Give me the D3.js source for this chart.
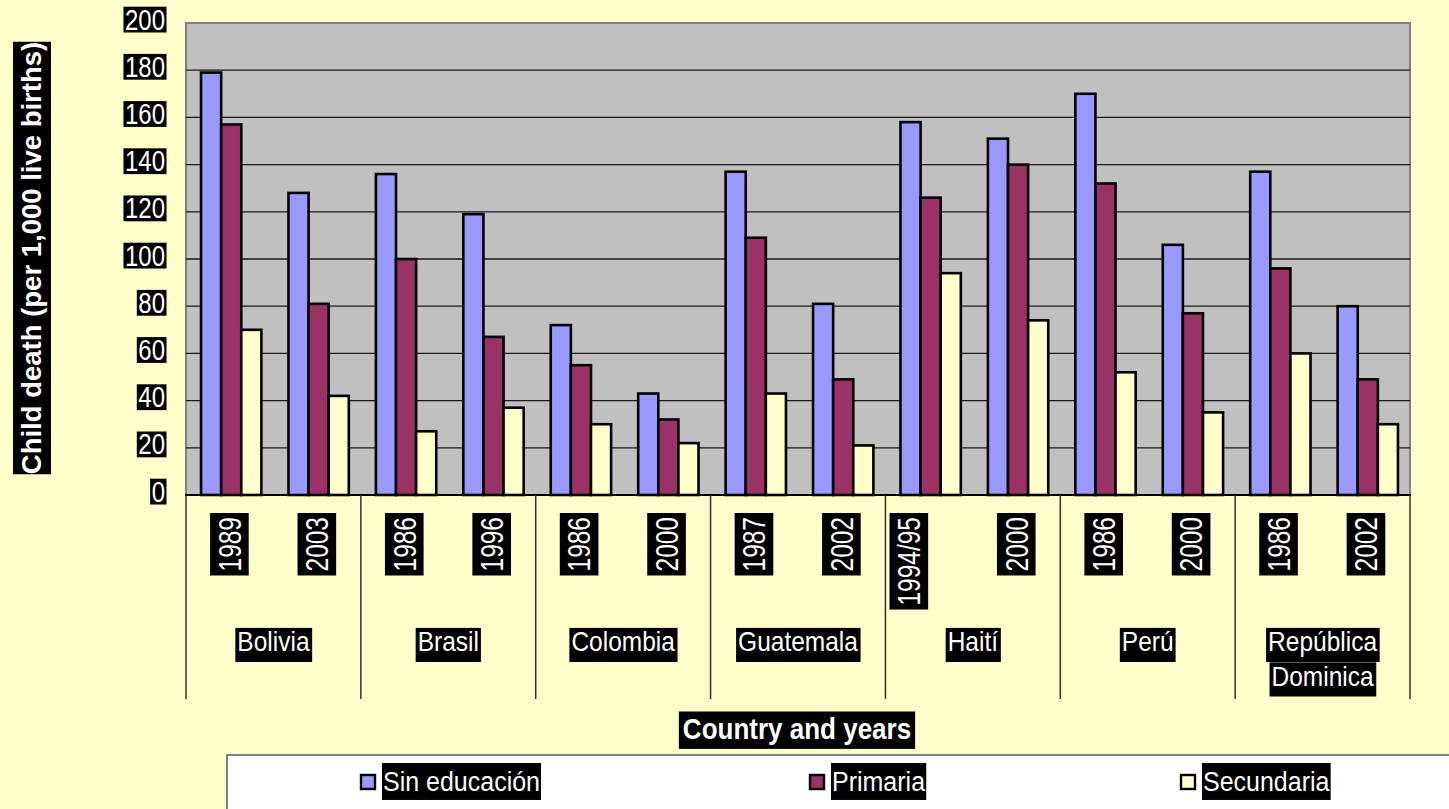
<!DOCTYPE html>
<html>
<head>
<meta charset="utf-8">
<script src="https://cdn.jsdelivr.net/npm/d3@7"></script>
<style>
  html, body { margin: 0; padding: 0; background: #ffffcc; overflow: hidden; }
  text { font-family: "Liberation Sans", Arial, sans-serif; }
</style>
</head>
<body>
<script>
const width = 1449;
const height = 809;
const margin = { top: 23, right: 39, bottom: 314, left: 186 };

// data
const countries = ["Bolivia", "Brasil", "Colombia", "Guatemala", "Haití", "Perú", "República Dominica"];
const years = ["1989", "2003", "1986", "1996", "1986", "2000", "1987", "2002", "1994/95", "2000", "1986", "2000", "1986", "2002"];
const seriesNames = ["Sin educación", "Primaria", "Secundaria"];
const sinEducacion = [179, 128, 136, 119, 72, 43, 137, 81, 158, 151, 170, 106, 137, 80];
const primaria = [157, 81, 100, 67, 55, 32, 109, 49, 126, 140, 132, 77, 96, 49];
const secundaria = [70, 42, 27, 37, 30, 22, 43, 21, 94, 74, 52, 35, 60, 30];
const yTicks = [0, 20, 40, 60, 80, 100, 120, 140, 160, 180, 200];
const colors = ["#9999ff", "#993366", "#ffffcc"];

const values = [sinEducacion, primaria, secundaria];

const plotBottom = 495;
const plotRight = width - margin.right;

var svg = d3.select('body').append('svg')
  .attr('width', width)
  .attr('height', height);

svg.append('rect')
  .attr('width', width)
  .attr('height', height)
  .attr('fill', '#ffffcc');

const x0 = d3.scaleBand()
  .domain(d3.range(years.length))
  .range([margin.left, plotRight]);

const xCountry = d3.scaleBand()
  .domain(countries)
  .range([margin.left, plotRight]);

const groupW = x0.bandwidth() * 0.69;
const x1 = d3.scaleBand()
  .domain(seriesNames)
  .range([0, groupW]);

const y = d3.scaleLinear()
  .domain([0, 200])
  .range([plotBottom, margin.top]);

// text in a black box, stretched a bit like the original
function boxed(parent, txt, tx, ty, o) {
  const g = parent.append('g')
    .attr('transform', `translate(${tx},${ty}) rotate(${o.rot || 0}) scale(1,${o.sy || 1})`);
  const t = g.append('text')
    .attr('text-anchor', o.anchor || 'middle')
    .attr('fill', 'white')
    .style('font-size', o.size + 'px')
    .style('font-weight', o.bold ? 700 : 400)
    .text(txt);
  const b = t.node().getBBox();
  g.insert('rect', 'text')
    .attr('x', b.x - o.padX)
    .attr('width', b.width + o.padX * 2)
    .attr('y', -o.top)
    .attr('height', o.top + o.bot)
    .attr('fill', 'black');
  return g;
}

// plot background
svg.append('rect')
  .attr('x', margin.left)
  .attr('y', margin.top)
  .attr('width', plotRight - margin.left)
  .attr('height', plotBottom - margin.top)
  .attr('fill', '#c0c0c0')
  .attr('stroke', '#808080')
  .attr('stroke-width', 2);

// gridlines
svg.append('g')
  .selectAll('line')
  .data(yTicks.filter(d => d > 0 && d < 200))
  .join('line')
  .attr('x1', margin.left)
  .attr('x2', plotRight)
  .attr('y1', d => y(d))
  .attr('y2', d => y(d))
  .attr('stroke', '#1a1a1a')
  .attr('stroke-width', 1.3);

// bars
const groups = svg.append('g')
  .selectAll('g')
  .data(years.map((yr, i) => i))
  .join('g')
  .attr('transform', i => `translate(${x0(i) + (x0.bandwidth() - groupW) / 2 + 1.5},0)`);

groups.selectAll('rect')
  .data(i => seriesNames.map((s, k) => ({ s: s, k: k, v: values[k][i] })))
  .join('rect')
  .attr('x', d => x1(d.s))
  .attr('width', x1.bandwidth())
  .attr('y', d => y(d.v))
  .attr('height', d => plotBottom - y(d.v))
  .attr('fill', d => colors[d.k])
  .attr('stroke', 'black')
  .attr('stroke-width', 2.6);

// y axis
const yAxis = svg.append('g')
  .attr('transform', `translate(${margin.left},0)`)
  .call(d3.axisLeft(y).tickValues(yTicks).tickSize(0).tickPadding(22));
yAxis.select('.domain').remove();
yAxis.selectAll('.tick text').remove();
yAxis.selectAll('.tick').each(function(d) {
  boxed(d3.select(this), d, -21, 6, { anchor: 'end', size: 24, sy: 1.2, padX: 1.5, top: 19, bot: 2.5 });
});

// bottom axis line
svg.append('line')
  .attr('x1', margin.left - 1)
  .attr('x2', plotRight + 1)
  .attr('y1', plotBottom)
  .attr('y2', plotBottom)
  .attr('stroke', 'black')
  .attr('stroke-width', 2);

// category separators
svg.append('g')
  .selectAll('line')
  .data(countries.map(c => xCountry(c)).concat([plotRight]))
  .join('line')
  .attr('x1', d => d)
  .attr('x2', d => d)
  .attr('y1', plotBottom)
  .attr('y2', 699)
  .attr('stroke', '#303030')
  .attr('stroke-width', 1.5);

// year labels
const yearG = svg.append('g');
years.forEach((yr, i) => {
  const cx = x0(i) + x0.bandwidth() / 2 - (yr.length > 4 ? 20 : 0);
  boxed(yearG, yr, cx + 11, 517, { rot: -90, anchor: 'end', size: 24.5, sy: 1.25, padX: 4, top: 24.5, bot: 6.4 });
});

// country labels
const countryG = svg.append('g');
countries.forEach(c => {
  const cx = xCountry(c) + xCountry.bandwidth() / 2;
  const parts = c === "República Dominica" ? ["República", "Dominica"] : [c];
  parts.forEach((p, j) => {
    boxed(countryG, p, cx, 651 + j * 34.5, { size: 24.5, sy: 1.1, padX: 2, top: 21, bot: 10 });
  });
});

// axis titles
boxed(svg, "Child death (per 1,000 live births)", 41, 258, { rot: -90, size: 27.5, bold: true, padX: 0, top: 28, bot: 10 });
boxed(svg, "Country and years", 797, 739, { size: 26, bold: true, sy: 1.1, padX: 4, top: 25, bot: 9 });

// legend
const legend = svg.append('g');
legend.append('rect')
  .attr('x', 227)
  .attr('y', 755)
  .attr('width', 1300)
  .attr('height', 100)
  .attr('fill', 'white')
  .attr('stroke', '#808080')
  .attr('stroke-width', 2);

const legendX = [361, 810, 1181];
seriesNames.forEach((s, k) => {
  legend.append('rect')
    .attr('x', legendX[k])
    .attr('y', 775)
    .attr('width', 14)
    .attr('height', 14)
    .attr('fill', colors[k])
    .attr('stroke', 'black')
    .attr('stroke-width', 2.4);
  boxed(legend, s, legendX[k] + 22, 791, { anchor: 'start', size: 25, sy: 1.12, padX: 1, top: 25, bot: 8 });
});
</script>
</body>
</html>
